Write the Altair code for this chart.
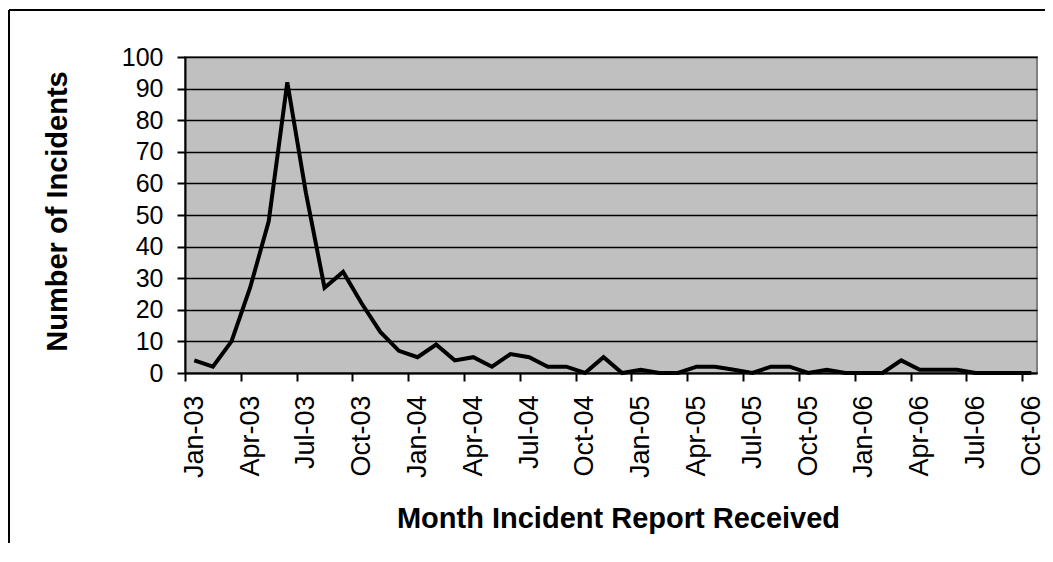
import altair as alt
import pandas as pd

months = [
    "Jan-03", "Feb-03", "Mar-03", "Apr-03", "May-03", "Jun-03", "Jul-03", "Aug-03", "Sep-03", "Oct-03", "Nov-03", "Dec-03",
    "Jan-04", "Feb-04", "Mar-04", "Apr-04", "May-04", "Jun-04", "Jul-04", "Aug-04", "Sep-04", "Oct-04", "Nov-04", "Dec-04",
    "Jan-05", "Feb-05", "Mar-05", "Apr-05", "May-05", "Jun-05", "Jul-05", "Aug-05", "Sep-05", "Oct-05", "Nov-05", "Dec-05",
    "Jan-06", "Feb-06", "Mar-06", "Apr-06", "May-06", "Jun-06", "Jul-06", "Aug-06", "Sep-06", "Oct-06",
]
incidents = [
    4, 2, 10, 27, 48, 92, 57, 27, 32, 22, 13, 7,
    5, 9, 4, 5, 2, 6, 5, 2, 2, 0, 5, 0,
    1, 0, 0, 2, 2, 1, 0, 2, 2, 0, 1, 0,
    0, 0, 4, 1, 1, 1, 0, 0, 0, 0,
]
y_ticks = list(range(0, 101, 10))

FONT = "Liberation Sans"
W, H = 852, 316

df = pd.DataFrame({"idx": list(range(len(months))), "month": months, "count": incidents})

label_idx = list(range(0, len(months), 3))
tick_pos = [i - 0.5 for i in label_idx]
label_expr = "[" + ",".join("'" + m + "'" for m in months) + "][datum.value]"

xscale = alt.Scale(domain=[-0.5, len(months) - 0.7], nice=False, zero=False)
yscale = alt.Scale(domain=[0, 100], nice=False)

y_axis = alt.Axis(values=y_ticks, grid=True, gridColor="black", gridWidth=1.5,
                  domainColor="black", domainWidth=2,
                  tickColor="black", tickWidth=2, tickSize=8,
                  labelFont=FONT, labelFontSize=25, labelColor="black",
                  labelPadding=14,
                  title="Number of Incidents", titleFont=FONT, titleFontSize=29,
                  titleFontWeight="bold", titleColor="black",
                  titleAngle=270, titleBaseline="middle", titleAlign="center",
                  titleX=-128, titleY=154)

base = alt.Chart(df)

# x axis with ticks only (at month boundaries)
tick_layer = base.mark_line(opacity=0).encode(
    x=alt.X("idx:Q", scale=xscale,
            axis=alt.Axis(orient="bottom", values=tick_pos, labels=False, grid=False, title=None,
                          domain=True, domainColor="black", domainWidth=2,
                          ticks=True, tickColor="black", tickWidth=2, tickSize=8)),
    y=alt.Y("count:Q", scale=yscale, axis=y_axis),
)

# x axis with labels only (centered on months)
line_layer = base.mark_line(color="black", strokeWidth=4).encode(
    x=alt.X("idx:Q", scale=xscale,
            axis=alt.Axis(orient="bottom", values=label_idx, labelExpr=label_expr, grid=False,
                          domain=False, ticks=False, labelAngle=270,
                          labelAlign="right", labelBaseline="middle",
                          labelFont=FONT, labelFontSize=27, labelColor="black",
                          labelPadding=22, labelFlush=False, labelOverlap=False,
                          title="Month Incident Report Received", titleFont=FONT,
                          titleFontSize=29, titleFontWeight="bold", titleColor="black",
                          titleBaseline="alphabetic", titleAlign="center",
                          titleX=433, titleY=154)),
    y=alt.Y("count:Q", scale=yscale, axis=y_axis),
)

frame_df = pd.DataFrame({"a": [0]})
frame_v = alt.Chart(frame_df).mark_rule(color="black", strokeWidth=2).encode(
    x=alt.value(-176), y=alt.value(-47), y2=alt.value(H + 200)
)
frame_h = alt.Chart(frame_df).mark_rule(color="black", strokeWidth=2).encode(
    x=alt.value(-176), x2=alt.value(W + 20), y=alt.value(-47)
)

chart = alt.layer(tick_layer, line_layer, frame_v, frame_h).resolve_axis(
    x="independent"
).properties(
    width=W, height=H,
    autosize=alt.AutoSizeParams(type="none"),
    padding={"left": 177, "top": 49, "right": 8, "bottom": 170},
    background="white",
).configure_view(
    fill="#C0C0C0", stroke="#808080", strokeWidth=2
)

chart.save("out.html", embed_options={"renderer": "svg", "actions": False})
